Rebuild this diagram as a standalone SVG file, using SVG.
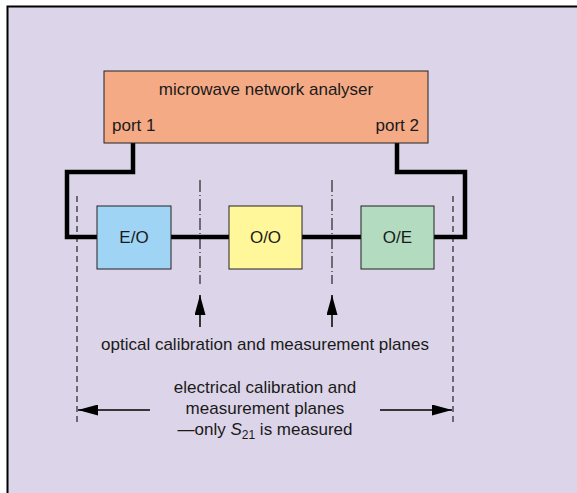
<svg xmlns="http://www.w3.org/2000/svg" width="577" height="493" viewBox="0 0 577 493">
<defs>
<style>
text{font-family:"Liberation Sans",Arial,sans-serif;font-size:17px;fill:#1a1a1a}
.box{stroke:#222;stroke-width:1}
.cable{fill:none;stroke:#000;stroke-width:4.5;stroke-linejoin:miter}
.dd{fill:none;stroke:#000;stroke-width:1;stroke-dasharray:12,3,1,3}
.dash{fill:none;stroke:#000;stroke-width:1;stroke-dasharray:6,4}
.arr{fill:none;stroke:#000;stroke-width:1.5}
</style>
<marker id="ah" viewBox="0 0 20 11" refX="20" refY="5.5" markerWidth="20" markerHeight="11" markerUnits="userSpaceOnUse" orient="auto">
<path d="M0,0 L20,5.5 L0,11 Z" fill="#000"/>
</marker>
</defs>
<rect x="0" y="0" width="577" height="493" fill="#ffffff"/>
<rect x="7" y="6" width="570" height="487" fill="#dcd4e8"/>
<path d="M7.5,493 V6.5 H577" fill="none" stroke="#000" stroke-width="2"/>

<g id="connectors">
<path class="cable" d="M133,143 V172 H67 V237 H97"/>
<path class="cable" d="M397,143 V172 H465 V237 H434"/>
<path class="cable" d="M171,237 H229"/>
<path class="cable" d="M302,237 H361"/>
<path class="dd" d="M200,180 V284"/>
<path class="dd" d="M332,180 V284"/>
<path class="dash" d="M77,196 V424"/>
<path class="dash" d="M453,196 V424"/>
<path class="arr" d="M200,327 V295" marker-end="url(#ah)"/>
<path class="arr" d="M332,327 V295" marker-end="url(#ah)"/>
<path class="arr" d="M150,410 H78" marker-end="url(#ah)"/>
<path class="arr" d="M380,410 H452" marker-end="url(#ah)"/>
</g>

<g id="analyser">
<rect class="box" x="104" y="71" width="324" height="72" fill="#f5aa86"/>
<text x="266" y="95" text-anchor="middle">microwave network analyser</text>
<text x="112" y="131">port 1</text>
<text x="419" y="131" text-anchor="end">port 2</text>
</g>

<g id="eo">
<rect class="box" x="97" y="206" width="74" height="63" fill="#9fd4f5"/>
<text x="134" y="243" text-anchor="middle">E/O</text>
</g>
<g id="oo">
<rect class="box" x="229" y="206" width="73" height="63" fill="#fff799"/>
<text x="265.5" y="243" text-anchor="middle">O/O</text>
</g>
<g id="oe">
<rect class="box" x="361" y="206" width="73" height="63" fill="#b3dbbf"/>
<text x="397.5" y="243" text-anchor="middle">O/E</text>
</g>

<g id="labels">
<text x="265" y="350" text-anchor="middle">optical calibration and measurement planes</text>
<text x="265" y="393" text-anchor="middle">electrical calibration and</text>
<text x="265" y="414" text-anchor="middle">measurement planes</text>
<text x="265" y="435" text-anchor="middle">—only <tspan font-style="italic">S</tspan><tspan font-size="12" dy="4">21</tspan><tspan dy="-4"> is measured</tspan></text>
</g>
</svg>
